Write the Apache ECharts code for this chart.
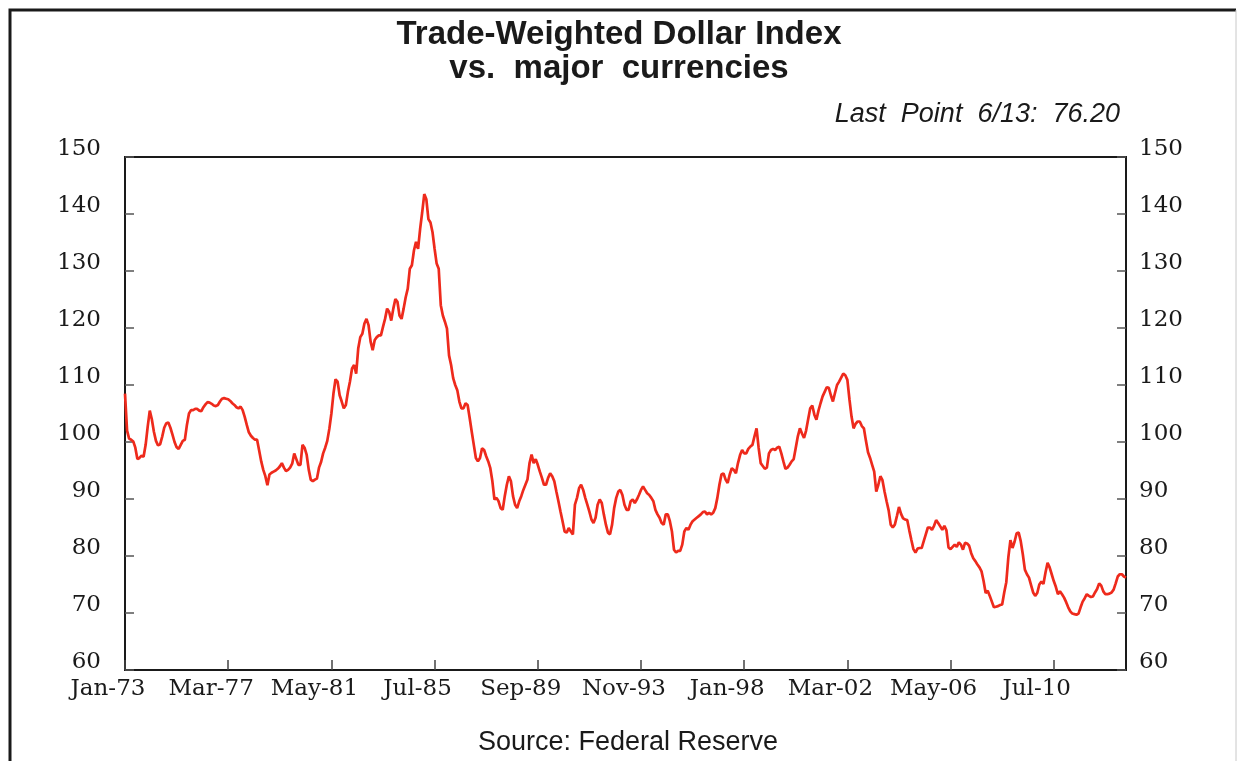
<!DOCTYPE html>
<html>
<head>
<meta charset="utf-8">
<title>Trade-Weighted Dollar Index</title>
<script src="https://cdn.jsdelivr.net/npm/echarts@6/dist/echarts.min.js"></script>
<style>
  html, body { margin: 0; padding: 0; background: #fff; }
  #chart { width: 1238px; height: 761px; }
</style>
</head>
<body>
<div id="chart"></div>
<script>
// monthly values, Jan-73 .. Jun-13
var startYear = 1973;
var monthNames = ['Jan', 'Feb', 'Mar', 'Apr', 'May', 'Jun', 'Jul', 'Aug', 'Sep', 'Oct', 'Nov', 'Dec'];
var xTickLabels = ['Jan-73', 'Mar-77', 'May-81', 'Jul-85', 'Sep-89', 'Nov-93', 'Jan-98', 'Mar-02', 'May-06', 'Jul-10'];
var yMin = 60, yMax = 150, yStep = 10;

var dollarIndex = [
  108.5, 102.0, 100.6, 100.4, 100.1, 99.0, 97.0, 97.2, 97.6, 97.4, 99.5, 102.7,   // 1973
  105.5, 104.0, 101.8, 100.2, 99.4, 99.6, 100.9, 102.5, 103.3, 103.4, 102.5, 101.3, // 1974
  100.0, 99.1, 98.8, 99.5, 100.2, 100.4, 103.0, 105.0, 105.6, 105.6, 105.8, 105.8,  // 1975
  105.5, 105.4, 106.1, 106.6, 107.0, 106.9, 106.7, 106.4, 106.3, 106.5, 107.1, 107.6, // 1976
  107.7, 107.6, 107.5, 107.2, 106.8, 106.5, 106.1, 105.9, 106.2, 105.6, 104.4, 103.0, // 1977
  101.7, 101.1, 100.7, 100.4, 100.4, 98.5, 96.6, 95.1, 94.0, 92.4, 94.3, 94.6,     // 1978
  94.8, 95.0, 95.3, 95.7, 96.3, 95.5, 94.9, 95.1, 95.5, 96.2, 98.0, 97.0,          // 1979
  96.0, 96.0, 99.5, 99.0, 97.8, 95.2, 93.4, 93.1, 93.4, 93.6, 95.5, 96.5,          // 1980
  98.0, 99.0, 100.2, 102.3, 105.0, 108.5, 111.0, 110.6, 108.2, 107.1, 105.9, 106.5, // 1981
  108.8, 110.6, 112.9, 113.5, 112.0, 116.4, 118.4, 119.0, 120.8, 121.6, 120.5, 117.6, // 1982
  116.1, 117.9, 118.4, 118.7, 118.7, 120.2, 121.6, 123.4, 122.8, 121.3, 123.4, 125.1, // 1983
  124.6, 122.2, 121.6, 123.4, 125.4, 126.9, 130.4, 131.0, 133.6, 135.1, 133.9, 137.4, // 1984
  140.3, 143.5, 142.6, 139.1, 138.5, 136.8, 133.9, 131.3, 130.4, 124.0, 122.2, 121.1, // 1985
  119.9, 115.2, 113.5, 111.2, 110.0, 109.1, 107.1, 105.9, 105.9, 106.8, 106.5, 104.2, // 1986
  101.8, 99.5, 97.2, 96.6, 97.2, 98.9, 98.6, 97.5, 96.6, 95.4, 93.1, 89.9,          // 1987
  90.2, 89.6, 88.4, 88.1, 90.5, 92.5, 94.0, 93.1, 90.5, 89.0, 88.4, 89.6,          // 1988
  90.5, 91.6, 92.5, 93.4, 96.3, 97.8, 96.3, 97.0, 96.0, 94.8, 93.7, 92.5,          // 1989
  92.5, 93.7, 94.5, 94.0, 93.1, 91.3, 89.6, 87.8, 86.1, 84.3, 84.1, 84.9,          // 1990
  84.3, 83.8, 89.0, 90.2, 91.9, 92.5, 91.6, 90.2, 89.0, 87.8, 86.4, 85.8,          // 1991
  86.7, 89.0, 89.9, 89.3, 87.3, 85.5, 84.1, 83.8, 85.5, 88.4, 90.2, 91.3,          // 1992
  91.6, 90.7, 89.0, 88.1, 88.1, 89.6, 89.9, 89.3, 89.9, 90.7, 91.6, 92.2,          // 1993
  91.6, 91.0, 90.7, 90.2, 89.6, 88.1, 87.3, 86.7, 85.8, 85.5, 87.3, 87.3,          // 1994
  86.1, 84.3, 81.1, 80.6, 80.9, 80.9, 82.0, 84.3, 84.9, 84.6, 85.5, 86.1,          // 1995
  86.4, 86.7, 87.0, 87.3, 87.7, 87.8, 87.3, 87.6, 87.3, 87.6, 88.4, 90.2,          // 1996
  92.5, 94.3, 94.5, 93.4, 92.8, 94.3, 95.4, 95.1, 94.5, 96.3, 97.7, 98.6,          // 1997
  98.0, 98.0, 98.8, 99.2, 99.5, 101.0, 102.4, 99.0, 96.3, 95.8, 95.3, 95.5,        // 1998
  98.0, 98.6, 98.8, 98.6, 99.0, 99.2, 98.0, 96.6, 95.3, 95.5, 96.0, 96.6,          // 1999
  97.0, 99.0, 101.0, 102.4, 101.5, 100.7, 102.0, 104.0, 105.9, 106.4, 104.8, 103.9, // 2000
  105.5, 106.8, 108.0, 108.8, 109.6, 109.5, 108.2, 107.1, 108.6, 110.0, 110.6, 111.3, // 2001
  112.0, 111.7, 110.9, 107.5, 104.5, 102.4, 103.2, 103.6, 103.6, 102.8, 102.4, 100.2, // 2002
  98.2, 97.2, 96.0, 94.8, 91.3, 92.5, 94.0, 93.3, 91.3, 89.6, 88.0, 85.5,          // 2003
  85.0, 85.5, 87.0, 88.6, 87.4, 86.6, 86.4, 86.3, 84.5, 82.8, 81.2, 80.6,          // 2004
  81.3, 81.4, 81.4, 82.6, 83.8, 85.0, 85.0, 84.6, 85.3, 86.3, 85.8, 85.2,          // 2005
  84.6, 85.3, 84.5, 81.5, 81.2, 81.6, 82.0, 81.6, 82.4, 82.0, 81.1, 82.3,          // 2006
  82.2, 81.8, 80.5, 79.6, 79.1, 78.5, 78.0, 77.3, 75.6, 73.5, 73.9, 73.0,          // 2007
  72.0, 71.0, 71.1, 71.2, 71.4, 71.5, 73.6, 75.4, 79.8, 82.8, 81.4, 82.5,          // 2008
  84.0, 84.1, 82.6, 80.3, 77.6, 76.8, 76.2, 74.9, 73.6, 73.0, 73.5, 75.0,          // 2009
  75.5, 75.1, 77.1, 78.8, 78.0, 76.8, 75.6, 74.6, 73.3, 73.8, 73.3, 72.7,          // 2010
  71.9, 71.0, 70.3, 69.9, 69.8, 69.7, 69.9, 71.0, 72.0, 72.6, 73.3, 73.0,          // 2011
  72.8, 72.9, 73.6, 74.2, 75.2, 74.8, 73.8, 73.3, 73.3, 73.4, 73.6, 74.1,          // 2012
  75.2, 76.4, 76.8, 76.8, 76.4, 76.2                                               // 2013
];

var categories = [];
for (var i = 0; i < dollarIndex.length; i++) {
  var yy = String(startYear + Math.floor(i / 12)).slice(2);
  categories.push(monthNames[i % 12] + '-' + yy);
}

var showTick = function (index, value) {
  return xTickLabels.indexOf(value) >= 0;
};

var serifLabel = {
  fontFamily: 'DejaVu Serif',
  fontSize: 23,
  color: '#1a1a1a'
};

var chart = echarts.init(document.getElementById('chart'));

var option = {
  animation: false,
  backgroundColor: '#fff',
  title: {
    text: 'Trade-Weighted Dollar Index\nvs.  major  currencies',
    left: 'center',
    top: 18,
    padding: 0,
    textStyle: {
      fontFamily: 'Liberation Sans',
      fontSize: 33,
      fontWeight: 'bold',
      lineHeight: 34,
      color: '#1a1a1a'
    }
  },
  graphic: [
    {
      type: 'polyline',
      shape: { points: [[10, 770], [10, 10], [1236, 10]] },
      style: { stroke: '#1a1a1a', lineWidth: 3, fill: null }
    },
    {
      type: 'line',
      shape: { x1: 1236, y1: 10, x2: 1236, y2: 770 },
      style: { stroke: '#c8c8c8', lineWidth: 1 }
    },
    {
      type: 'text',
      x: 1120,
      y: 114,
      style: {
        text: 'Last  Point  6/13:  76.20',
        fontFamily: 'Liberation Sans',
        fontSize: 27,
        fontStyle: 'italic',
        fill: '#1a1a1a',
        textAlign: 'right',
        textVerticalAlign: 'middle'
      }
    },
    {
      type: 'text',
      x: 628,
      y: 743,
      style: {
        text: 'Source: Federal Reserve',
        fontFamily: 'Liberation Sans',
        fontSize: 27,
        fill: '#1a1a1a',
        textAlign: 'center',
        textVerticalAlign: 'middle'
      }
    }
  ],
  grid: {
    left: 125,
    right: 112,
    top: 157,
    bottom: 91,
    show: true,
    borderColor: '#1a1a1a',
    borderWidth: 2
  },
  xAxis: {
    type: 'category',
    data: categories,
    boundaryGap: false,
    axisLine: { lineStyle: { color: '#1a1a1a', width: 2 } },
    axisTick: {
      inside: true,
      length: 10,
      interval: showTick,
      lineStyle: { color: '#444', width: 1.5 }
    },
    axisLabel: Object.assign({
      interval: showTick,
      margin: 8,
      padding: [0, 34, 0, 0]
    }, serifLabel),
    splitLine: { show: false }
  },
  yAxis: [
    {
      type: 'value',
      min: yMin,
      max: yMax,
      interval: yStep,
      position: 'left',
      axisLine: { show: true, lineStyle: { color: '#1a1a1a', width: 2 } },
      axisTick: { show: true, inside: true, length: 9, lineStyle: { color: '#555', width: 1.5 } },
      axisLabel: Object.assign({ margin: 24, verticalAlign: 'bottom', lineHeight: 16 }, serifLabel),
      splitLine: { show: false }
    },
    {
      type: 'value',
      min: yMin,
      max: yMax,
      interval: yStep,
      position: 'right',
      axisLine: { show: true, lineStyle: { color: '#1a1a1a', width: 2 } },
      axisTick: { show: true, inside: true, length: 9, lineStyle: { color: '#555', width: 1.5 } },
      axisLabel: Object.assign({ margin: 13, verticalAlign: 'bottom', lineHeight: 16 }, serifLabel),
      splitLine: { show: false }
    }
  ],
  series: [
    {
      name: 'Trade-Weighted Dollar Index',
      type: 'line',
      data: dollarIndex,
      showSymbol: false,
      smooth: false,
      lineStyle: { color: '#ee2a1c', width: 2.7 }
    }
  ]
};

chart.setOption(option);
</script>
</body>
</html>
